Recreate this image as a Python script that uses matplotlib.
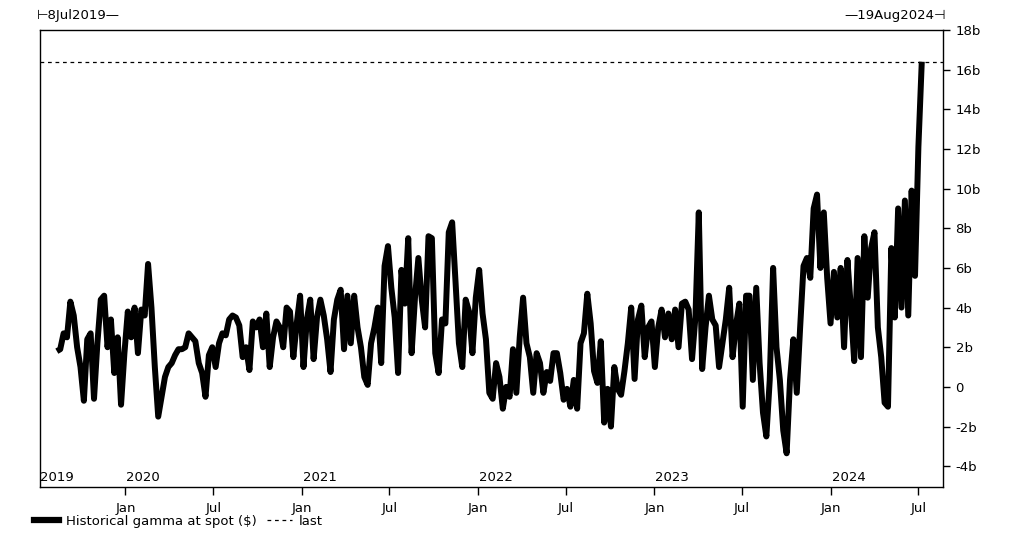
import matplotlib
matplotlib.use("Agg")
import matplotlib.pyplot as plt
import matplotlib.dates as mdates
import matplotlib.transforms as mtransforms
from matplotlib.lines import Line2D
import numpy as np
import pandas as pd

# weekly readings of historical gamma at spot, in $bn (Aug 2019 -> Jul 2024)
gamma_2019_20 = [1.8, 1.9, 2.7, 2.5, 4.3, 3.6, 2.0, 1.0, -0.7, 2.4, 2.7, -0.6, 2.2, 4.4, 4.6, 2.0, 3.4, 0.7, 2.5,
                 -0.9, 1.7, 3.8, 2.5, 4.0, 1.7, 3.9, 3.6, 6.2, 4.0, 1.0, -1.5, -0.5, 0.5, 1.0, 1.2, 1.6, 1.9]
gamma_2020_21 = [1.9, 2.0, 2.7, 2.5, 2.3, 1.2, 0.7, -0.5, 1.6, 2.0, 1.0, 2.2, 2.7, 2.6, 3.4, 3.6, 3.5, 3.1, 1.5,
                 2.0, 0.85, 3.3, 3.0, 3.4, 2.0, 3.7, 1.0, 2.5, 3.3, 3.0, 2.0, 4.0, 3.8, 1.5, 3.2, 4.6]
gamma_2021 = [1.0, 3.4, 4.4, 1.4, 3.5, 4.4, 3.6, 2.4, 0.75, 3.4, 4.4, 4.9, 1.9, 4.6, 2.2, 4.6, 3.0, 2.0, 0.5,
              0.1, 2.2, 3.0, 4.0, 1.2, 6.1, 7.1, 5.0, 3.5, 0.7, 5.9, 4.2, 7.5, 1.7, 4.5, 6.5, 4.4, 3.0, 7.6]
gamma_2022 = [7.5, 1.7, 0.7, 3.4, 3.2, 7.8, 8.3, 5.3, 2.2, 1.0, 4.4, 3.8, 1.7, 4.5, 5.9, 3.7, 2.4, -0.3, -0.6,
              1.2, 0.5, -1.1, 0.0, -0.5, 1.9, -0.3, 2.5, 4.5, 2.2, 1.5, -0.3, 1.7, 1.2, -0.3, 0.75, 0.3, 1.7]
gamma_2022_23 = [1.7, 0.7, -0.65, -0.1, -1.0, 0.35, -1.1, 2.2, 2.7, 4.7, 3.2, 0.8, 0.2, 2.3, -1.8, -0.1, -2.0,
                 1.0, -0.1, -0.4, 0.8, 2.2, 4.0, 0.4, 3.4, 4.1, 1.5, 3.0, 3.3, 1.0, 3.0, 3.9, 2.5, 3.7, 2.4, 3.9, 2.0]
gamma_2023 = [4.2, 4.3, 3.9, 1.4, 3.5, 8.8, 0.9, 3.0, 4.6, 3.4, 3.1, 1.0, 2.2, 3.4, 5.0, 1.5, 3.1, 4.2, -1.0,
              4.6, 4.6, 0.35, 5.0, 1.2, -1.3, -2.5, 0.35, 6.0, 2.0, 0.35, -2.2, -3.35, 0.35, 2.4, -0.3, 3.0, 6.1]
gamma_2024 = [6.5, 5.5, 9.0, 9.7, 6.0, 8.8, 5.5, 3.2, 5.8, 3.5, 6.0, 2.0, 6.4, 4.0, 1.3, 6.5, 1.5, 7.6, 4.5,
              7.0, 7.8, 3.0, 1.5, -0.8, -1.0, 7.0, 3.5, 9.0, 4.0, 9.4, 3.6, 9.9, 5.6, 12.1, 16.4]

gamma = gamma_2019_20 + gamma_2020_21 + gamma_2021 + gamma_2022 + gamma_2022_23 + gamma_2023 + gamma_2024
dates = pd.date_range("2019-08-12", periods=len(gamma), freq="7D")
last_value = gamma[-1]

start_label = "⊢8Jul2019—"
end_label = "—19Aug2024⊣"
years = [2019, 2020, 2021, 2022, 2023, 2024]
y_ticks = [-4, -2, 0, 2, 4, 6, 8, 10, 12, 14, 16, 18]

plt.rcParams["font.family"] = ["DejaVu Sans"]
plt.rcParams["font.size"] = 9

fig = plt.figure(figsize=(10.09, 5.33), dpi=100)
ax = fig.add_axes([0.0396, 0.0863, 0.8950, 0.8574])

ax.plot(dates, gamma, color="black", linewidth=4.3, solid_joinstyle="round",
        solid_capstyle="butt", label="Historical gamma at spot ($)")
ax.axhline(last_value, color="black", linewidth=0.9, linestyle=(0, (3, 3)), label="last")

ax.set_xlim(pd.Timestamp("2019-07-08"), pd.Timestamp("2024-08-21"))
ax.set_ylim(-5.05, 18.0)

ax.yaxis.tick_right()
ax.set_yticks(y_ticks)
ax.set_yticklabels([("%db" % v) if v != 0 else "0" for v in y_ticks])
ax.tick_params(axis="y", direction="out", length=5, width=1, pad=4, labelsize=9.5)

ax.xaxis.set_major_locator(mdates.MonthLocator(bymonth=[1, 7]))
ax.xaxis.set_major_formatter(mdates.DateFormatter("%b"))
ax.tick_params(axis="x", direction="out", length=6, width=1, pad=5, labelsize=9.5)

for s in ax.spines.values():
    s.set_linewidth(1.0)

# year labels sitting inside the plot just above the bottom axis
trans = mtransforms.blended_transform_factory(ax.transData, ax.transAxes)
for yr in years:
    x0 = pd.Timestamp("2019-07-09") if yr == 2019 else pd.Timestamp("%d-01-03" % yr)
    ax.text(x0, 0.006, str(yr), transform=trans, ha="left", va="bottom", fontsize=9.5)

fig.text(0.037, 0.958, start_label, ha="left", va="bottom", fontsize=9.5)
fig.text(0.937, 0.958, end_label, ha="right", va="bottom", fontsize=9.5)

handles = [Line2D([], [], color="black", linewidth=4.5),
           Line2D([], [], color="black", linewidth=0.9, linestyle=(0, (3, 3)))]
fig.legend(handles, ["Historical gamma at spot ($)", "last"], loc="lower left",
           bbox_to_anchor=(0.022, -0.012), ncol=2, frameon=False, handlelength=1.9,
           handletextpad=0.5, columnspacing=0.8, fontsize=9.5)

fig.savefig("out.png", dpi=100)
